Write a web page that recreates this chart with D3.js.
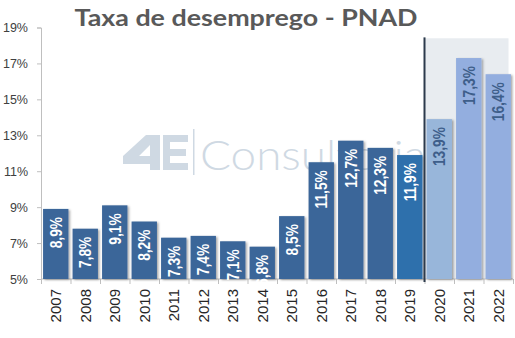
<!DOCTYPE html>
<html>
<head>
<meta charset="utf-8">
<script src="https://cdn.jsdelivr.net/npm/d3@7"></script>
<style>
  html, body { margin: 0; padding: 0; background: #ffffff; }
  svg { display: block; }
</style>
</head>
<body>
<div id="chart"></div>
<script>
// Taxa de desemprego (PNAD), 2007–2022, % da força de trabalho
const years = ["2007","2008","2009","2010","2011","2012","2013","2014","2015","2016","2017","2018","2019","2020","2021","2022"];
const rates = [8.9, 7.8, 9.1, 8.2, 7.3, 7.4, 7.1, 6.8, 8.5, 11.5, 12.7, 12.3, 11.9, 13.9, 17.3, 16.4];
const rateLabels = ["8,9%","7,8%","9,1%","8,2%","7,3%","7,4%","7,1%","6,8%","8,5%","11,5%","12,7%","12,3%","11,9%","13,9%","17,3%","16,4%"];
const yTicks = [5, 7, 9, 11, 13, 15, 17, 19];
const projectedYears = ["2020","2021","2022"];

const W = 515, H = 338;
const margin = { left: 41, right: 2, top: 27.5, bottom: 59 };

const svg = d3.select("#chart").append("svg")
  .attr("width", W).attr("height", H);

const defs = svg.append("defs");
const shadow = defs.append("filter").attr("id", "barShadow")
  .attr("x", "-20%").attr("y", "-10%").attr("width", "150%").attr("height", "130%");
shadow.append("feDropShadow")
  .attr("dx", 1.5).attr("dy", 1).attr("stdDeviation", 1)
  .attr("flood-color", "#000").attr("flood-opacity", 0.35);

const x = d3.scaleBand()
  .domain(years)
  .range([margin.left, W - margin.right])
  .paddingInner(0.14)
  .paddingOuter(0.07);

const y = d3.scaleLinear()
  .domain([5, 19])
  .range([H - margin.bottom, margin.top]);

const step = x.step();
const bandStart = d => x(d) - (step - x.bandwidth()) / 2;

// Projection area background (2020 onward)
const projX0 = bandStart("2020");
svg.append("rect")
  .attr("x", projX0)
  .attr("y", y(18.4))
  .attr("width", 84)
  .attr("height", y(5) - y(18.4))
  .attr("fill", "#e8ecf0");

// Watermark logo: "4E" mark, separator and wordmark
const wm = svg.append("g").attr("fill", "#cfd9e3");
wm.append("path")
  .attr("fill-rule", "evenodd")
  .attr("d", "M146,135 L160,135 L160,170 L150,170 L150,164 L123,164 L123,156 Z M150,145 L150,156 L139,156 Z");
wm.append("path")
  .attr("d", "M163,135 H188 V142 H170 V149 H186 V156 H170 V163 H188 V170 H163 Z");
wm.append("rect")
  .attr("x", 193).attr("y", 129).attr("width", 1.5).attr("height", 46);
wm.append("text")
  .attr("x", 200).attr("y", 170)
  .attr("font-family", "Lato, sans-serif")
  .attr("font-weight", 300)
  .attr("font-size", 42)
  .attr("textLength", 226)
  .attr("lengthAdjust", "spacingAndGlyphs")
  .text("Consultoria");

// Axes
const axisColor = "#bfbfbf";
const yAxis = svg.append("g")
  .attr("transform", `translate(${margin.left},0)`)
  .call(d3.axisLeft(y).tickValues(yTicks).tickSize(4).tickPadding(9).tickFormat(d => d + "%"));
yAxis.select(".domain").attr("stroke", axisColor);
yAxis.selectAll(".tick line").attr("stroke", axisColor);
yAxis.selectAll(".tick text")
  .attr("fill", "#404040")
  .attr("font-family", "Liberation Sans, Arial, sans-serif")
  .attr("font-size", 12.5);

const xAxisG = svg.append("g").attr("transform", `translate(0,${y(5)})`);
xAxisG.append("line")
  .attr("x1", margin.left).attr("x2", W - margin.right)
  .attr("stroke", axisColor);
xAxisG.selectAll("line.tk")
  .data(years.concat(["end"]))
  .join("line")
  .attr("class", "tk")
  .attr("x1", (d, i) => margin.left + i * step + 0.5)
  .attr("x2", (d, i) => margin.left + i * step + 0.5)
  .attr("y1", 0).attr("y2", 5)
  .attr("stroke", axisColor);
xAxisG.selectAll("text")
  .data(years)
  .join("text")
  .attr("transform", d => `translate(${x(d) + x.bandwidth() / 2},10) rotate(-90)`)
  .attr("text-anchor", "end")
  .attr("dy", "0.35em")
  .attr("fill", "#262626")
  .attr("font-family", "Liberation Sans, Arial, sans-serif")
  .attr("font-size", 15)
  .text(d => d);

// Bars
const colorFor = d => {
  if (d === "2019") return "#2f6fac";
  if (d === "2020") return "#98b6da";
  if (projectedYears.includes(d)) return "#93aedf";
  return "#3b6699";
};
const data = years.map((yr, i) => ({ yr, v: rates[i], label: rateLabels[i] }));

svg.append("g").selectAll("rect")
  .data(data)
  .join("rect")
  .attr("x", d => x(d.yr))
  .attr("y", d => y(d.v))
  .attr("width", x.bandwidth())
  .attr("height", d => y(5) - y(d.v))
  .attr("fill", d => colorFor(d.yr))
  .attr("filter", "url(#barShadow)");

// Divider between observed and projected values
svg.append("line")
  .attr("x1", projX0).attr("x2", projX0)
  .attr("y1", y(18.45)).attr("y2", y(5) + 3)
  .attr("stroke", "#2c3a4c").attr("stroke-width", 2);

// Value labels, rotated inside the top of each bar
svg.append("g").selectAll("text")
  .data(data)
  .join("text")
  .attr("transform", d => `translate(${x(d.yr) + x.bandwidth() / 2},${y(d.v) + 8}) rotate(-90) scale(0.86,1)`)
  .attr("text-anchor", "end")
  .attr("dy", "0.36em")
  .attr("fill", d => projectedYears.includes(d.yr) ? "#3e5e8a" : "#ffffff")
  .attr("font-family", "Liberation Sans, Arial, sans-serif")
  .attr("font-weight", "bold")
  .attr("font-size", 16)
  .text(d => d.label);

// Title
svg.append("text")
  .attr("x", 246).attr("y", 26)
  .attr("text-anchor", "middle")
  .attr("fill", "#595959")
  .attr("font-family", "Lato, sans-serif")
  .attr("font-weight", "bold")
  .attr("font-size", 23)
  .attr("textLength", 343)
  .attr("lengthAdjust", "spacingAndGlyphs")
  .text("Taxa de desemprego - PNAD");
</script>
</body>
</html>
